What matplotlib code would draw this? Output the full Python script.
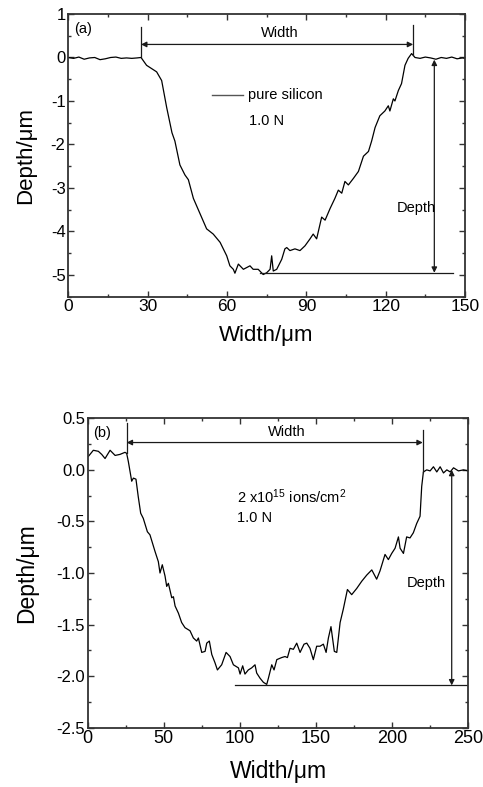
import numpy as np
import matplotlib
matplotlib.use("Agg")
import matplotlib.pyplot as plt
from matplotlib.ticker import MultipleLocator, FormatStrFormatter

plt.rcParams.update({"font.family": "Liberation Sans", "axes.unicode_minus": False,
                     "mathtext.fontset": "custom", "mathtext.rm": "Liberation Sans",
                     "mathtext.it": "Liberation Sans", "mathtext.bf": "Liberation Sans"})

# ---------------- datos (a): silicio puro, 1.0 N ----------------
xa = [0, 2, 4, 6, 8, 10, 12, 14, 16, 18, 20, 22, 24, 26, 27.5,
      29.6, 33.4, 35.3, 37.2, 39.2, 40.3, 42.2, 44.1, 45.4, 47.3, 49.8, 52.3, 54.8,
      57.4, 59.9, 61.1, 62.4, 63.0, 64.3, 66.2, 68.7, 69.9, 71.8, 73.7, 75.0, 76.3,
      76.9, 77.5, 78.8, 80.7, 81.9, 82.6, 83.8, 85.7, 87.6, 89.5, 91.4, 92.6, 93.9,
      95.8, 97.1, 99.0, 100.8, 102.1, 103.4, 104.6, 105.9, 107.8, 109.7, 111.6,
      113.5, 114.7, 116.0, 117.8, 119.7, 121.0, 121.6, 122.9, 123.5, 124.8, 126.0,
      127.3, 128.5, 129.8, 131.1, 133, 135, 137, 139, 141, 143, 145, 147, 149, 150]
ya = [0.0, -0.02, 0.01, -0.04, -0.01, 0.0, -0.05, -0.03, 0.0, 0.01, -0.02, -0.01,
      -0.02, -0.01, 0.0,
      -0.18, -0.33, -0.53, -1.15, -1.73, -1.92, -2.47, -2.70, -2.81, -3.24, -3.59,
      -3.94, -4.06, -4.25, -4.56, -4.79, -4.87, -4.96, -4.75, -4.87, -4.79, -4.87,
      -4.87, -4.99, -4.95, -4.87, -4.56, -4.91, -4.87, -4.64, -4.40, -4.37, -4.44,
      -4.40, -4.44, -4.33, -4.17, -4.06, -4.17, -3.67, -3.74, -3.47, -3.24, -3.05,
      -3.12, -2.85, -2.93, -2.78, -2.62, -2.27, -2.16, -1.92, -1.61, -1.34, -1.23,
      -1.11, -1.23, -0.95, -1.00, -0.76, -0.60, -0.18, -0.02, 0.09, 0.0,
      -0.02, 0.01, -0.01, -0.04, 0.0, -0.02, 0.01, -0.03, -0.01, -0.02]

# ---------------- datos (b): 2x10^15 iones/cm2, 1.0 N ----------------
xb = [0.4, 3.7, 7.0, 9.2, 11.4, 14.7, 18.0, 21.2, 24.5, 25.6, 26.7, 28.9, 30.0, 31.7,
      33.2, 34.8, 36.5, 39.2, 40.9, 44.2, 46.4, 47.5, 49.0, 50.8, 51.9, 53.0, 55.2,
      56.3, 57.4, 59.6, 61.7, 63.9, 67.2, 69.4, 71.6, 72.7, 74.9, 77.1, 78.2, 79.9,
      81.5, 83.6, 85.2, 88.0, 90.9, 93.5, 95.7, 99.0, 100.1, 101.8, 103.3, 105.5,
      107.7, 109.9, 111.0, 113.2, 115.4, 117.6, 118.7, 120.9, 122.4, 124.2, 127.4,
      129.6, 131.2, 132.9, 135.1, 137.3, 139.5, 142.1, 143.9, 146.0, 148.2, 150.4,
      152.6, 154.8, 156.6, 158.1, 159.8, 162.0, 163.6, 165.8, 167.9, 170.6, 173.4,
      176.7, 180.0, 183.3, 186.6, 189.8, 192.0, 195.3, 197.5, 199.7, 201.9, 204.1,
      205.2, 207.4, 209.5, 211.7, 213.9, 216.1, 218.3, 219.4, 220.5, 222.7, 224.9,
      227.1, 229.3, 231.5, 233.7, 235.9, 238.1, 240.3, 243.5, 246.8, 250.0]
yb = [0.13, 0.19, 0.18, 0.15, 0.11, 0.19, 0.14, 0.15, 0.17, 0.16, 0.08, -0.11, -0.08,
      -0.09, -0.26, -0.42, -0.47, -0.60, -0.63, -0.79, -0.89, -1.00, -0.92, -1.03,
      -1.13, -1.10, -1.24, -1.23, -1.32, -1.39, -1.48, -1.53, -1.56, -1.63, -1.66,
      -1.63, -1.77, -1.76, -1.68, -1.66, -1.79, -1.87, -1.94, -1.89, -1.77, -1.81,
      -1.89, -1.92, -1.98, -1.90, -1.98, -1.94, -1.92, -1.89, -1.97, -2.02, -2.06,
      -2.08, -2.02, -1.89, -1.94, -1.84, -1.82, -1.81, -1.82, -1.73, -1.74, -1.68,
      -1.77, -1.69, -1.68, -1.73, -1.84, -1.71, -1.71, -1.69, -1.77, -1.63, -1.52,
      -1.76, -1.77, -1.48, -1.35, -1.16, -1.21, -1.15, -1.08, -1.02, -0.97, -1.06,
      -0.98, -0.82, -0.87, -0.81, -0.76, -0.65, -0.76, -0.81, -0.65, -0.66, -0.61,
      -0.52, -0.45, -0.16, -0.02, 0.0, -0.01, 0.03, -0.02, 0.03, -0.03, 0.0, -0.02,
      0.02, -0.01, 0.0, -0.01]

W, H = 483, 787
fig = plt.figure(figsize=(W / 100, H / 100), dpi=100)
FS = 10.5  # texto de anotaciones


def eje(px0, py0, px1, py1):
    return fig.add_axes([px0 / W, 1 - py1 / H, (px1 - px0) / W, (py1 - py0) / H])


def estilo(ax, xmaj, ymaj, xfs, yfs):
    ax.xaxis.set_major_locator(MultipleLocator(xmaj))
    ax.xaxis.set_minor_locator(MultipleLocator(xmaj / 2))
    ax.yaxis.set_major_locator(MultipleLocator(ymaj))
    ax.yaxis.set_minor_locator(MultipleLocator(ymaj / 2))
    ax.tick_params(which="both", direction="in", top=True, right=True, width=1.0,
                   color="#333333")
    ax.tick_params(which="major", length=4, pad=2)
    ax.tick_params(which="minor", length=2)
    ax.tick_params(axis="x", labelsize=xfs)
    ax.tick_params(axis="y", labelsize=yfs)
    for sp in ax.spines.values():
        sp.set_linewidth(1.3)
        sp.set_color("#333333")


def flecha(ax, x0, y0, x1, y1):
    ax.annotate("", xy=(x1, y1), xytext=(x0, y0),
                arrowprops=dict(arrowstyle="<|-|>", mutation_scale=8, lw=0.9,
                                color="#1a1a1a", shrinkA=0, shrinkB=0))


# ---------------- (a) ----------------
ax = eje(68.3, 14, 465, 296.7)
ax.plot(xa, ya, color="black", lw=0.9)
ax.set_xlim(0, 150); ax.set_ylim(-5.5, 1)
estilo(ax, 30, 1, 12.5, 12)
ax.plot([27.5, 27.5], [0.0, 0.71], color="#1a1a1a", lw=0.9)
ax.plot([130.4, 130.4], [0.05, 0.75], color="#1a1a1a", lw=0.9)
flecha(ax, 27.5, 0.30, 130.4, 0.30)
ax.text(80, 0.57, "Width", ha="center", va="center", fontsize=FS)
ax.text(2.3, 0.65, "(a)", ha="left", va="center", fontsize=FS)
ax.plot([54.2, 66.2], [-0.86, -0.86], color="#555555", lw=1.0)
ax.text(68.0, -0.86, "pure silicon", ha="left", va="center", fontsize=FS)
ax.text(68.4, -1.47, "1.0 N", ha="left", va="center", fontsize=FS)
ax.plot([72.4, 145.6], [-4.95, -4.95], color="#1a1a1a", lw=0.9)
flecha(ax, 138.4, -0.05, 138.4, -4.95)
ax.text(124.2, -3.47, "Depth", ha="left", va="center", fontsize=FS)
ax.set_xlabel("Width/μm", fontsize=16)
ax.set_ylabel("Depth/μm", fontsize=16)
ax.xaxis.set_label_coords(0.5, -0.1)
ax.yaxis.set_label_coords(-0.08, 0.5)

# ---------------- (b) ----------------
ax = eje(87.7, 418.3, 468.3, 727.7)
ax.plot(xb, yb, color="black", lw=0.9)
ax.set_xlim(0, 250); ax.set_ylim(-2.5, 0.5)
estilo(ax, 50, 0.5, 13, 12)
ax.yaxis.set_major_formatter(FormatStrFormatter("%.1f"))
ax.plot([25.6, 25.6], [0.16, 0.45], color="#1a1a1a", lw=0.9)
ax.plot([220.1, 220.1], [-0.02, 0.39], color="#1a1a1a", lw=0.9)
flecha(ax, 25.6, 0.265, 220.1, 0.265)
ax.text(130.7, 0.37, "Width", ha="center", va="center", fontsize=FS)
ax.text(3.7, 0.355, "(b)", ha="left", va="center", fontsize=FS)
ax.text(97.9, -0.26, "2 x10$^{15}$ ions/cm$^{2}$", ha="left", va="center", fontsize=FS)
ax.text(98.3, -0.47, "1.0 N", ha="left", va="center", fontsize=FS)
ax.plot([96.8, 250], [-2.09, -2.09], color="#1a1a1a", lw=0.9)
flecha(ax, 239.1, 0.0, 239.1, -2.09)
ax.text(222.7, -1.10, "Depth", ha="center", va="center", fontsize=FS)
ax.set_xlabel("Width/μm", fontsize=16.5)
ax.set_ylabel("Depth/μm", fontsize=16.5)
ax.xaxis.set_label_coords(0.5, -0.105)
ax.yaxis.set_label_coords(-0.13, 0.5)

fig.savefig("out.png", dpi=100, facecolor="white")
